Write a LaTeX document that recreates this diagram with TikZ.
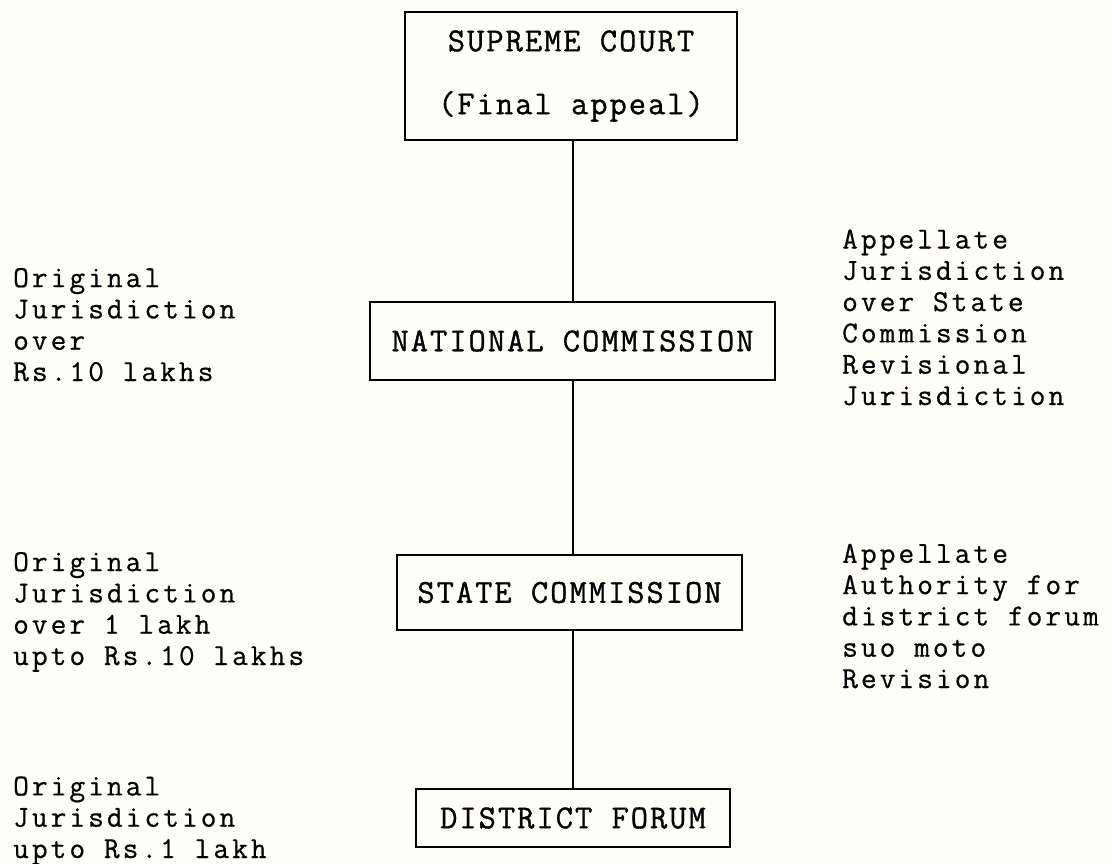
\documentclass[tikz,border=0pt]{standalone}
\usepackage{fontspec}
\newfontfamily\courtfont[LetterSpace=6,FakeBold=1]{Latin Modern Mono}
\newfontfamily\sidefont[LetterSpace=10,FakeBold=0.6]{Latin Modern Mono}
\begin{document}
\begin{tikzpicture}[x=1pt,y=-1pt,
  court/.style={draw, line width=1.6pt, inner sep=0pt, align=center,
    font=\courtfont\fontsize{33.5}{63}\selectfont},
  side/.style={anchor=base west, inner sep=0pt, align=left,
    font=\sidefont\fontsize{30.5}{31.3}\selectfont},
  link/.style={line width=1.6pt}]
\fill[white!97!yellow] (0,0) rectangle (1112,864);
\useasboundingbox (0,0) rectangle (1112,864);
\node[court, minimum width=332pt, minimum height=128pt] (sc) at (571,76) {SUPREME COURT\\(Final appeal)};
\node[court, minimum width=405pt, minimum height=78pt] (nc) at (572.5,341) {NATIONAL COMMISSION};
\node[court, minimum width=345pt, minimum height=75pt] (st) at (569.5,592.5) {STATE COMMISSION};
\node[court, minimum width=314pt, minimum height=58pt] (df) at (573,818) {DISTRICT FORUM};
\draw[link] (df.north |- sc.south) -- (df.north |- nc.north);
\draw[link] (df.north |- nc.south) -- (df.north |- st.north);
\draw[link] (df.north |- st.south) -- (df.north);
\node[side] (l1) at (13,381) {Original\\Jurisdiction\\over\\Rs.10 lakhs};
\node[side] (l2) at (13,665) {Original\\Jurisdiction\\over 1 lakh\\upto Rs.10 lakhs};
\node[side] (l3) at (13,858) {Original\\Jurisdiction\\upto Rs.1 lakh};
\node[side] (r1) at (842,405) {Appellate\\Jurisdiction\\over State\\Commission\\Revisional\\Jurisdiction};
\node[side] (r2) at (842,688) {Appellate\\Authority for\\district forum\\suo moto\\Revision};
\end{tikzpicture}
\end{document}
